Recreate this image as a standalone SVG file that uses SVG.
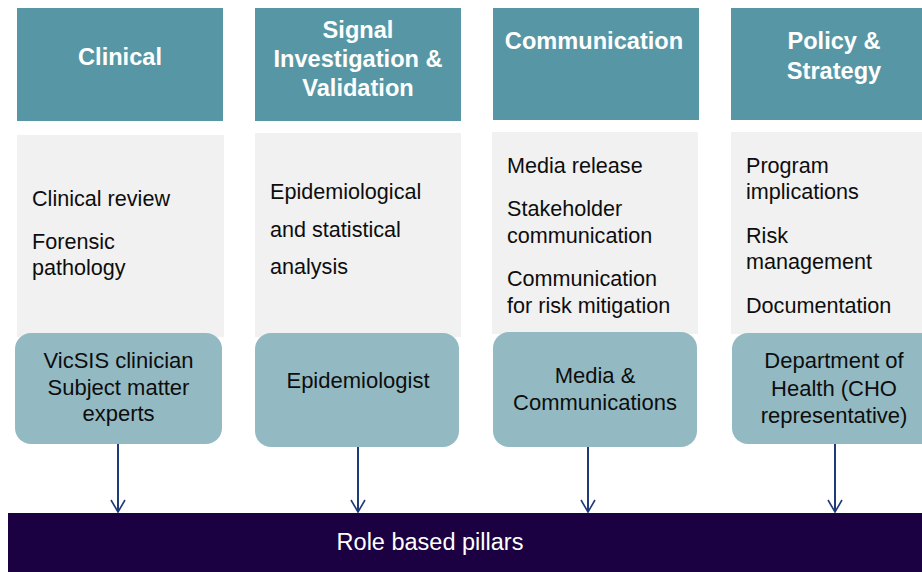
<svg xmlns="http://www.w3.org/2000/svg" width="922" height="572" viewBox="0 0 922 572">
<defs>
<style>
.hdr{fill:#5797a5}
.body{fill:#f1f1f1}
.role{fill:#93bac3}
.ht{font-family:"Liberation Sans",Arial,sans-serif;font-weight:bold;font-size:23.6px;fill:#fff;text-anchor:middle}
.bt{font-family:"Liberation Sans",Arial,sans-serif;font-size:21.6px;fill:#0d0d0d}
.rt{font-family:"Liberation Sans",Arial,sans-serif;font-size:22px;fill:#0d0d0d;text-anchor:middle}
.conn{stroke:#1f3a78;stroke-width:2;fill:none}
</style>
<marker id="arr" viewBox="0 0 16 14" refX="8" refY="13" markerWidth="16" markerHeight="14" markerUnits="userSpaceOnUse">
<path d="M1,1 L8,13 L15,1" fill="none" stroke="#1f3a78" stroke-width="1.6"/>
</marker>
</defs>
<rect width="922" height="572" fill="#fff"/>

<g id="clinical">
<rect class="hdr" x="17" y="8" width="206" height="113"/>
<text class="ht" x="120" y="65">Clinical</text>
<rect class="body" x="17" y="135" width="207" height="202"/>
<text class="bt" x="32" y="206">Clinical review</text>
<text class="bt" x="32" y="249">Forensic</text>
<text class="bt" x="32" y="275">pathology</text>
<rect class="role" x="15" y="333" width="207" height="111" rx="16"/>
<text class="rt" x="118.5" y="368">VicSIS clinician</text>
<text class="rt" x="118.5" y="395">Subject matter</text>
<text class="rt" x="118.5" y="421">experts</text>
</g>

<g id="signal">
<rect class="hdr" x="255" y="8" width="206" height="113"/>
<text class="ht" x="358" y="38">Signal</text>
<text class="ht" x="358" y="67">Investigation &amp;</text>
<text class="ht" x="358" y="96">Validation</text>
<rect class="body" x="255" y="133" width="206" height="204"/>
<text class="bt" x="270" y="199">Epidemiological</text>
<text class="bt" x="270" y="237">and statistical</text>
<text class="bt" x="270" y="274">analysis</text>
<rect class="role" x="255" y="333" width="204" height="114" rx="16"/>
<text class="rt" x="358" y="388">Epidemiologist</text>
</g>

<g id="communication">
<rect class="hdr" x="493" y="8" width="206" height="112"/>
<text class="ht" x="594" y="49">Communication</text>
<rect class="body" x="492" y="132" width="206" height="202"/>
<text class="bt" x="507" y="173">Media release</text>
<text class="bt" x="507" y="216">Stakeholder</text>
<text class="bt" x="507" y="243">communication</text>
<text class="bt" x="507" y="286">Communication</text>
<text class="bt" x="507" y="313">for risk mitigation</text>
<rect class="role" x="493" y="332" width="204" height="115" rx="16"/>
<text class="rt" x="595" y="383">Media &amp;</text>
<text class="rt" x="595" y="410">Communications</text>
</g>

<g id="policy">
<rect class="hdr" x="731" y="8" width="206" height="112"/>
<text class="ht" x="834" y="49">Policy &amp;</text>
<text class="ht" x="834" y="79">Strategy</text>
<rect class="body" x="731" y="132" width="206" height="202"/>
<text class="bt" x="746" y="173">Program</text>
<text class="bt" x="746" y="199">implications</text>
<text class="bt" x="746" y="243">Risk</text>
<text class="bt" x="746" y="269">management</text>
<text class="bt" x="746" y="313">Documentation</text>
<rect class="role" x="732" y="333" width="206" height="111" rx="16"/>
<text class="rt" x="834" y="368">Department of</text>
<text class="rt" x="834" y="396">Health (CHO</text>
<text class="rt" x="834" y="423">representative)</text>
</g>

<g id="pillars">
<rect x="8" y="513" width="914" height="59" fill="#1b0042"/>
<text x="430" y="550" font-family="'Liberation Sans',Arial,sans-serif" font-size="23.5" fill="#fff" text-anchor="middle">Role based pillars</text>
</g>

<g id="connectors">
<line class="conn" x1="118" y1="444" x2="118" y2="512" marker-end="url(#arr)"/>
<line class="conn" x1="358" y1="447" x2="358" y2="512" marker-end="url(#arr)"/>
<line class="conn" x1="588" y1="447" x2="588" y2="512" marker-end="url(#arr)"/>
<line class="conn" x1="835" y1="444" x2="835" y2="512" marker-end="url(#arr)"/>
</g>
</svg>
